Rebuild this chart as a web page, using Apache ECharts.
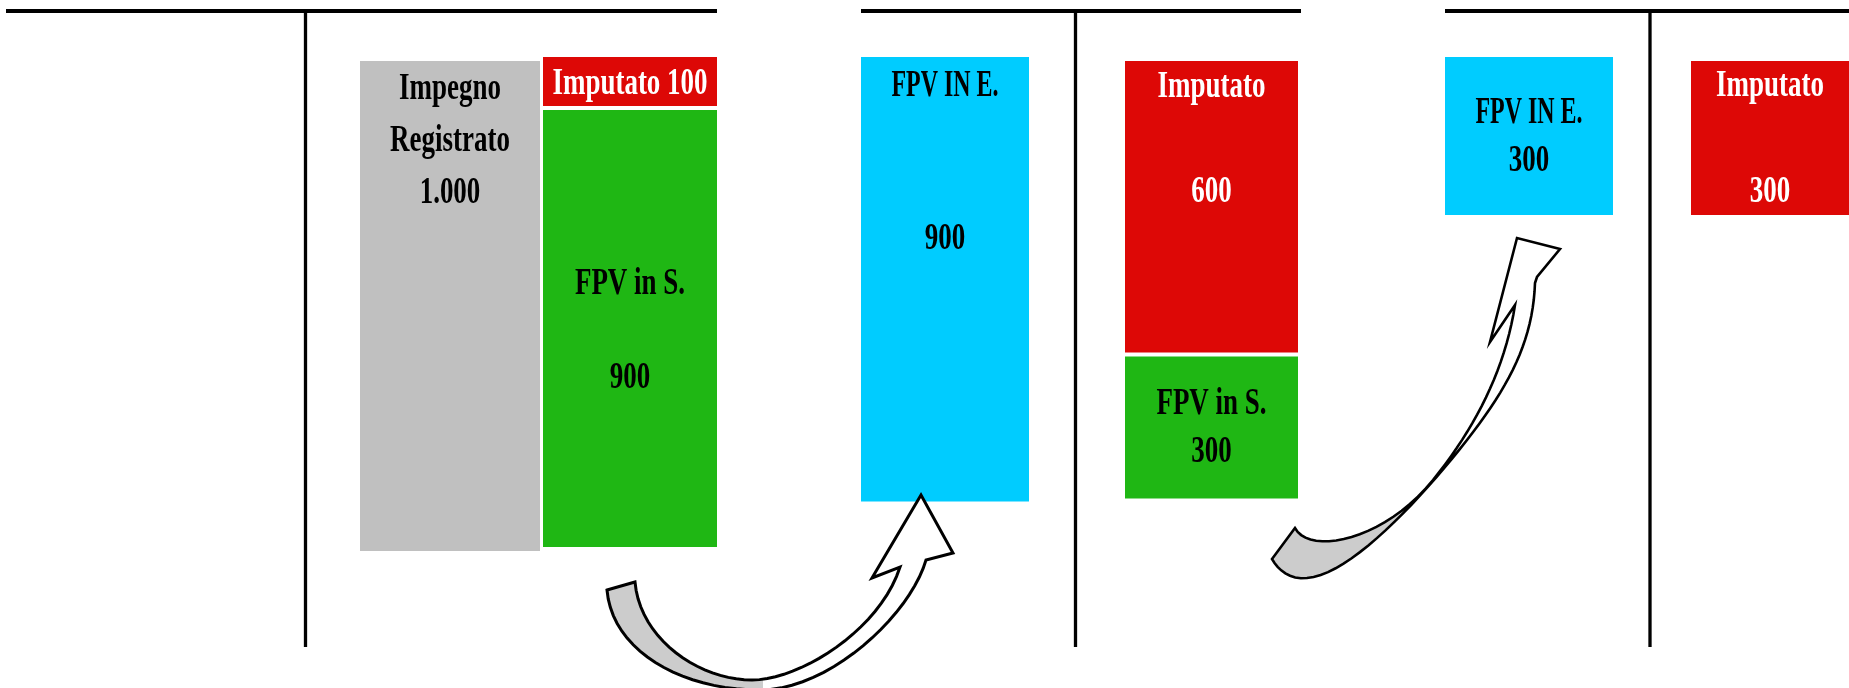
<!DOCTYPE html>
<html>
<head>
<meta charset="utf-8">
<title>Impegno e FPV</title>
<script src="https://cdn.jsdelivr.net/npm/echarts@6/dist/echarts.min.js"></script>
<style>
html, body { margin: 0; padding: 0; background: #fff; }
#chart { width: 1849px; height: 688px; }
</style>
</head>
<body>
<div id="chart"></div>
<script>
// colonne dei tre conti a T
const colonne = ['Impegno', 'Esercizio 1', 'FPV entrata 2', 'Esercizio 2', 'FPV entrata 3', 'Esercizio 3']
// voci (dall'alto verso il basso in ogni colonna)
const voci = ['Impegno Registrato', 'Imputato', 'FPV in S.', 'FPV IN E.', 'Imputato', 'FPV in S.', 'FPV IN E.', 'Imputato']
const importi = [1000, 100, 900, 900, 600, 300, 300, 300]
const colonnaVoce = [0, 1, 1, 2, 3, 3, 4, 5]
const tipoVoce = ['impegno', 'imputato', 'fpvS', 'fpvE', 'imputato', 'fpvS', 'fpvE', 'imputato']
const etichette = [
  'Impegno\nRegistrato\n1.000',
  'Imputato 100',
  'FPV in S.\n\n900',
  'FPV IN E.\n\n\n900',
  'Imputato\n\n600',
  'FPV in S.\n300',
  'FPV IN E.\n300',
  'Imputato\n\n300'
]

const colori = { impegno: '#c0c0c0', imputato: '#dd0806', fpvS: '#1fb714', fpvE: '#00ccff' }
const coloreTesto = { impegno: '#000', imputato: '#fff', fpvS: '#000', fpvE: '#000' }
// il titolo "FPV IN E." nell'originale è più stretto
const strettezza = { 'FPV IN E.': 0.63 }

// posizione delle colonne
const griglie = [
  { left: 360, width: 180, top: 61, height: 490 },
  { left: 543, width: 174, top: 57, height: 490 },
  { left: 861, width: 168, top: 57, height: 494 },
  { left: 1125, width: 173, top: 61, height: 486 },
  { left: 1445, width: 168, top: 57, height: 527 },
  { left: 1691, width: 158, top: 61, height: 513 }
]
// posizione del testo nei riquadri
const layoutTesto = [
  { pos: 'top', d: 2, lh: 52 },
  { pos: 'middle', d: 3, lh: 40 },
  { pos: 'middle', d: 2.5, lh: 47 },
  { pos: 'top', d: 4, lh: 51 },
  { pos: 'top', d: 0, lh: 52.5 },
  { pos: 'middle', d: 1, lh: 48 },
  { pos: 'middle', d: 1.5, lh: 48 },
  { pos: 'top', d: -1, lh: 53 }
]

function bez(p0, p1, p2, p3, n) {
  const pts = []
  for (let i = 0; i <= n; i++) {
    const t = i / n, u = 1 - t
    pts.push([
      u * u * u * p0[0] + 3 * u * u * t * p1[0] + 3 * u * t * t * p2[0] + t * t * t * p3[0],
      u * u * u * p0[1] + 3 * u * u * t * p1[1] + 3 * u * t * t * p2[1] + t * t * t * p3[1]
    ])
  }
  return pts
}

// frecce curve
const freccia1 = [].concat(
  [[607, 590]],
  bez([635, 582], [640, 640], [700, 680], [752, 680], 20),
  bez([752, 680], [800, 680], [880, 630], [900, 567], 20).slice(1),
  [[872, 578], [921, 495], [953, 553]],
  bez([926, 560], [910, 615], [830, 690], [760, 690], 20),
  bez([760, 690], [680, 690], [612, 650], [607, 590], 20).slice(1, -1)
)
const freccia2 = [].concat(
  bez([1295, 528], [1310, 556], [1385, 540], [1433, 480], 20),
  bez([1433, 480], [1475, 428], [1505, 370], [1515, 305], 20).slice(1),
  [[1490, 342], [1517, 238], [1560, 249], [1537, 277]],
  bez([1535, 283], [1533, 340], [1510, 385], [1467, 440], 20),
  bez([1467, 440], [1420, 500], [1350, 575], [1307, 578], 20).slice(1),
  bez([1307, 578], [1290, 580], [1278, 570], [1272, 559], 8).slice(1)
)

const chart = echarts.init(document.getElementById('chart'))

const grid = [], xAxis = [], yAxis = [], series = []
griglie.forEach((g, c) => {
  grid.push(g)
  xAxis.push({ type: 'category', gridIndex: c, data: [colonne[c]], show: false })
  yAxis.push({ type: 'value', gridIndex: c, min: 0, max: 1000, inverse: true, show: false })
  const data = []
  let base = 0
  importi.forEach((v, i) => {
    if (colonnaVoce[i] !== c) return
    data.push([0, base, base + v, i])
    base += v
  })
  series.push({
    type: 'custom',
    name: colonne[c],
    xAxisIndex: c,
    yAxisIndex: c,
    data: data,
    encode: { x: 0, y: [1, 2] },
    renderItem: function (params, api) {
      const i = api.value(3)
      const p0 = api.coord([0, api.value(1)])
      const p1 = api.coord([0, api.value(2)])
      const w = api.size([1, 0])[0]
      const gap = api.value(1) > 0 ? 4 : 0
      const y = p0[1] + gap
      const h = p1[1] - y
      const L = layoutTesto[i]
      const righe = etichette[i].split('\n')
      // centro della prima riga
      const y0 = L.pos === 'top'
        ? y + L.d + L.lh / 2
        : y + h / 2 + L.d - (righe.length - 1) * L.lh / 2
      const children = [{
        type: 'rect',
        shape: { x: p0[0] - w / 2, y: y, width: w, height: h },
        style: { fill: colori[tipoVoce[i]] }
      }]
      righe.forEach((r, k) => {
        if (!r) return
        children.push({
          type: 'text',
          x: p0[0],
          y: y0 + k * L.lh,
          scaleX: strettezza[r] || 0.71,
          style: {
            text: r,
            x: 0,
            y: 0,
            align: 'center',
            verticalAlign: 'middle',
            fontFamily: 'Liberation Serif',
            fontWeight: 'bold',
            fontSize: 38,
            fill: coloreTesto[tipoVoce[i]]
          }
        })
      })
      return { type: 'group', children: children }
    }
  })
})

const linea = (x1, y1, x2, y2, lw) => ({
  type: 'line',
  z: 50,
  shape: { x1: x1, y1: y1, x2: x2, y2: y2 },
  style: { stroke: '#000', lineWidth: lw }
})

chart.setOption({
  animation: false,
  grid: grid,
  xAxis: xAxis,
  yAxis: yAxis,
  series: series,
  graphic: [
    linea(6, 11, 717, 11, 4),
    linea(861, 11, 1301, 11, 4),
    linea(1445, 11, 1849, 11, 4),
    linea(305.5, 11, 305.5, 647, 3.3),
    linea(1075.5, 11, 1075.5, 647, 3.3),
    linea(1650, 11, 1650, 647, 3.3),
    {
      type: 'polygon',
      z: 100,
      shape: { points: freccia1 },
      style: {
        stroke: '#000',
        lineWidth: 3,
        lineJoin: 'miter',
        fill: new echarts.graphic.LinearGradient(0, 0, 1, 0, [
          { offset: 0, color: '#cccccc' },
          { offset: 0.45, color: '#cccccc' },
          { offset: 0.45, color: '#ffffff' },
          { offset: 1, color: '#ffffff' }
        ])
      }
    },
    {
      type: 'polygon',
      z: 100,
      shape: { points: freccia2 },
      style: {
        stroke: '#000',
        lineWidth: 2.6,
        lineJoin: 'miter',
        fill: new echarts.graphic.LinearGradient(0, 1, 1, 0, [
          { offset: 0, color: '#cccccc' },
          { offset: 0.38, color: '#cccccc' },
          { offset: 0.38, color: '#ffffff' },
          { offset: 1, color: '#ffffff' }
        ])
      }
    }
  ]
})
</script>
</body>
</html>
